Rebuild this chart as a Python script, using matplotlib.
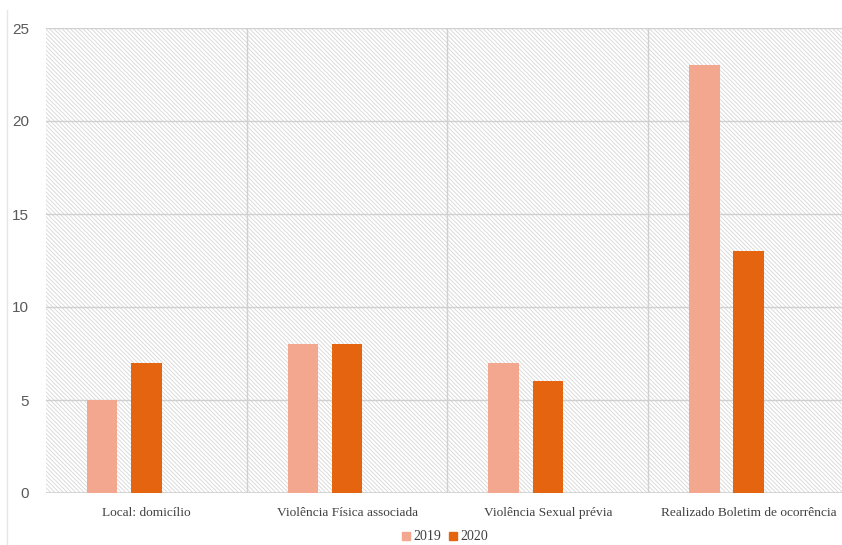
import matplotlib
matplotlib.use("Agg")
import matplotlib.pyplot as plt
import numpy as np
from matplotlib.patches import Rectangle
from matplotlib.lines import Line2D

categories = ["Local: domicílio", "Violência Física associada", "Violência Sexual prévia",
              "Realizado Boletim de ocorrência"]
series_names = ["2019", "2020"]
values_2019 = [5, 8, 7, 23]
values_2020 = [7, 8, 6, 13]
yticks = [0, 5, 10, 15, 20, 25]

col_2019 = "#F2A78E"
col_2020 = "#E5640F"

plt.rcParams['hatch.color'] = '#D6D6D6'
plt.rcParams['hatch.linewidth'] = 0.6

fig = plt.figure(figsize=(8.42, 5.45), dpi=100)
ax = fig.add_axes([46/842, (545-493)/545, (849-46)/842, (493-28)/545])

ax.set_xlim(-0.5, 3.5)
ax.set_ylim(0, 25)

# hatched background
bg = Rectangle((0, 0), 1, 1, transform=ax.transAxes, facecolor='white',
               edgecolor='#D6D6D6', hatch='\\' * 8, linewidth=0, zorder=0)
ax.add_patch(bg)
ax.patch.set_visible(False)

# gridlines
for yv in yticks[1:]:
    ax.axhline(yv, color='#D0D0D0', lw=1.0, zorder=1)
for xv in [0.5, 1.5, 2.5]:
    ax.axvline(xv, color='#D0D0D0', lw=1.0, zorder=1)
ax.axhline(0, color='#D0D0D0', lw=1.2, zorder=1)

x = np.arange(len(categories))
w = 0.152
off = 0.2205
ax.bar(x - off, values_2019, width=w, color=col_2019, zorder=3)
ax.bar(x, values_2020, width=w, color=col_2020, zorder=3)

for s in ax.spines.values():
    s.set_visible(False)

ax.set_yticks(yticks)
ax.set_yticklabels([str(v) for v in yticks], family='Liberation Sans', fontsize=11, color='#595959')
ax.tick_params(axis='y', length=0, pad=12)
ax.set_xticks(x)
ax.set_xticklabels(categories, family='Liberation Serif', fontsize=9.6, color='#404040')
ax.tick_params(axis='x', length=0, pad=10)

handles = [Line2D([], [], marker='s', linestyle='none', markersize=6, color=col_2019),
           Line2D([], [], marker='s', linestyle='none', markersize=6, color=col_2020)]
fig.legend(handles, series_names, loc='center', bbox_to_anchor=(445/842, 1 - 537/545),
           ncol=2, frameon=False, prop={'family': 'Liberation Serif', 'size': 10},
           handlelength=0.6, handletextpad=0.2, columnspacing=0.6, labelcolor='#404040')

# faint outer frame on left
fig.add_artist(Line2D([7/842, 7/842], [0, 1 - 10/545], transform=fig.transFigure,
                      color='#E6E6E6', lw=1))

fig.savefig("out.png", dpi=100, facecolor='white')
